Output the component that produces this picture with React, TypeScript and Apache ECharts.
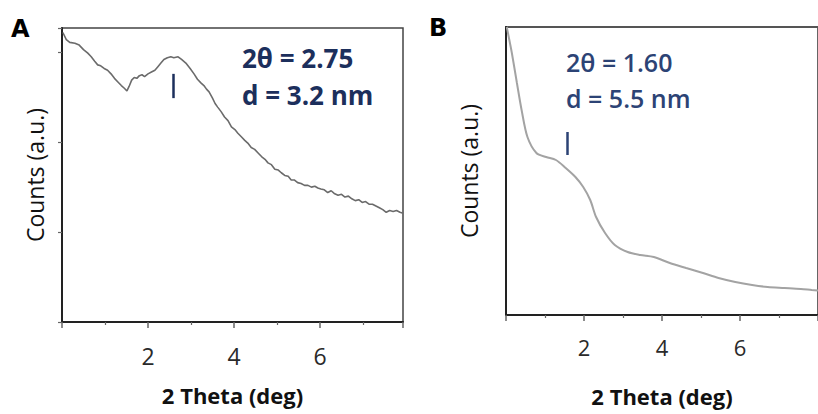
import React, { useEffect, useRef } from "react";
import * as echarts from "echarts";

// Panel A: 2 Theta (deg) vs counts (a.u.)
const aTheta = [0.02,0.1,0.18,0.3,0.4,0.5,0.6,0.68,0.76,0.83,0.9,0.98,1.06,1.14,1.22,1.3,1.38,1.45,1.51,1.56,1.62,1.68,1.74,1.8,1.86,1.92,2.0,2.08,2.16,2.23,2.3,2.37,2.45,2.53,2.6,2.7,2.78,2.88,2.98,3.07,3.15,3.23,3.3,3.36,3.42,3.5,3.56,3.62,3.7,3.78,3.86,3.94,4.02,4.09,4.17,4.25,4.32,4.4,4.48,4.56,4.64,4.72,4.79,4.87,4.95,5.03,5.1,5.18,5.26,5.33,5.4,5.48,5.56,5.64,5.72,5.8,5.88,5.95,6.02,6.1,6.18,6.26,6.33,6.42,6.5,6.58,6.66,6.74,6.82,6.9,6.98,7.06,7.14,7.22,7.3,7.38,7.46,7.54,7.62,7.7,7.78,7.86,7.93];
const aCounts = [3.22,3.14,3.11,3.10,3.08,3.03,2.99,2.95,2.90,2.86,2.85,2.82,2.80,2.76,2.71,2.67,2.63,2.60,2.57,2.62,2.69,2.72,2.71,2.74,2.75,2.73,2.76,2.78,2.80,2.84,2.88,2.92,2.94,2.95,2.94,2.95,2.92,2.88,2.82,2.76,2.70,2.66,2.63,2.59,2.56,2.49,2.43,2.39,2.34,2.28,2.24,2.17,2.14,2.10,2.06,2.02,1.99,1.94,1.92,1.88,1.84,1.81,1.77,1.75,1.70,1.69,1.66,1.63,1.62,1.58,1.58,1.55,1.54,1.52,1.52,1.50,1.51,1.49,1.48,1.47,1.44,1.46,1.43,1.41,1.42,1.39,1.40,1.37,1.35,1.36,1.33,1.34,1.31,1.31,1.29,1.27,1.25,1.22,1.24,1.23,1.24,1.22,1.21];

// Panel B
const bTheta = [0.02,0.05,0.15,0.28,0.4,0.55,0.78,1.03,1.28,1.53,1.78,1.98,2.16,2.31,2.54,2.79,3.12,3.44,3.79,4.2,4.62,5.05,5.45,5.88,6.31,6.71,7.14,7.56,7.84,8.0];
const bCounts = [2.88,2.82,2.62,2.32,2.05,1.78,1.62,1.58,1.55,1.47,1.38,1.28,1.15,0.98,0.82,0.70,0.63,0.60,0.58,0.52,0.47,0.42,0.37,0.33,0.30,0.28,0.27,0.26,0.25,0.245];

// Peak markers [theta, lowCount, highCount]
const aMarker = [2.58, 2.49, 2.76];
const bMarker = [1.56, 1.6, 1.83];

const xTickLabels = [2, 4, 6];
const aNotes = ["2θ = 2.75", "d = 3.2 nm"];
const bNotes = ["2θ = 1.60", "d = 5.5 nm"];
const panelLabels = ["A", "B"];
const xName = "2 Theta (deg)";
const yName = "Counts (a.u.)";

const FONT = "'Open Sans'";
const NAVY = "#1c2f5c";

function xAxisCfg(grid: number, max: number, labelSize: number, margin: number, nameGap: number) {
  return {
    gridIndex: grid,
    type: "value",
    min: 0,
    max,
    interval: 2,
    axisLine: { show: true, lineStyle: { color: "#222", width: 2 } },
    axisTick: { show: true, length: 6, lineStyle: { color: "#666", width: 1.5 } },
    minorTick: { show: true, splitNumber: 2, length: 3, lineStyle: { color: "#666", width: 1.2 } },
    minorSplitLine: { show: false },
    splitLine: { show: false },
    axisLabel: {
      formatter: (v: number) => (xTickLabels.includes(v) ? String(v) : ""),
      fontSize: labelSize,
      color: "#2a2a2a",
      fontFamily: "Open Sans",
      margin,
      showMaxLabel: false,
    },
    name: xName,
    nameLocation: "middle",
    nameGap,
    nameTextStyle: { fontSize: 22, fontWeight: "bold", color: "#111", fontFamily: "Open Sans" },
  };
}

function yAxisCfg(grid: number, max: number, showTicks: boolean, nameGap: number) {
  return {
    gridIndex: grid,
    type: "value",
    min: 0,
    max,
    interval: 1,
    axisLine: { show: true, lineStyle: { color: "#222", width: 2 } },
    axisTick: { show: showTicks, length: 4, lineStyle: { color: "#666", width: 1.2 } },
    splitLine: { show: false },
    axisLabel: { show: false },
    name: yName,
    nameLocation: "middle",
    nameGap,
    nameTextStyle: { fontSize: 23, color: "#111", fontFamily: "Open Sans" },
  };
}

export default function App() {
  const ref = useRef<HTMLDivElement>(null);
  useEffect(() => {
    if (!ref.current) return;
    const chart = echarts.init(ref.current, undefined, { renderer: "svg" });
    const aData = aTheta.map((x, i) => [x, aCounts[i]]);
    const bData = bTheta.map((x, i) => [x, bCounts[i]]);
    chart.setOption({
      animation: false,
      backgroundColor: "#fff",
      grid: [
        { left: 62, top: 28, width: 341, height: 294, show: true, borderColor: "#444", borderWidth: 1.5, containLabel: false },
        { left: 506, top: 27, width: 318, height: 288, show: true, borderColor: "#555", borderWidth: 1.8, containLabel: false },
      ],
      xAxis: [xAxisCfg(0, 7.93, 23, 22, 62), xAxisCfg(1, 8, 22, 21, 70)],
      yAxis: [yAxisCfg(0, 3.27, true, 16), yAxisCfg(1, 2.88, false, 26)],
      series: [
        {
          type: "line",
          xAxisIndex: 0,
          yAxisIndex: 0,
          data: aData,
          showSymbol: false,
          lineStyle: { color: "#6b6b6b", width: 1.6 },
          markLine: {
            silent: true,
            symbol: "none",
            label: { show: false },
            lineStyle: { color: NAVY, width: 2.5, type: "solid" },
            data: [[{ coord: [aMarker[0], aMarker[1]] }, { coord: [aMarker[0], aMarker[2]] }]],
          },
        },
        {
          type: "line",
          xAxisIndex: 1,
          yAxisIndex: 1,
          data: bData,
          showSymbol: false,
          smooth: 0.3,
          lineStyle: { color: "#a3a3a3", width: 2 },
          markLine: {
            silent: true,
            symbol: "none",
            label: { show: false },
            lineStyle: { color: "#2c4375", width: 2.5, type: "solid" },
            data: [[{ coord: [bMarker[0], bMarker[1]] }, { coord: [bMarker[0], bMarker[2]] }]],
          },
        },
      ],
      graphic: [
        { type: "text", left: 11, top: 17, style: { text: panelLabels[0], font: "900 24px 'DejaVu Sans'", fill: "#000" } },
        { type: "text", left: 429, top: 16, style: { text: panelLabels[1], font: "900 24px 'DejaVu Sans'", fill: "#000" } },
        { type: "text", x: 242, y: 58, style: { text: aNotes[0], font: `bold 26px ${FONT}`, fill: NAVY, verticalAlign: "middle" } },
        { type: "text", x: 242, y: 95, style: { text: aNotes[1], font: `bold 26px ${FONT}`, fill: NAVY, verticalAlign: "middle" } },
        { type: "text", x: 566, y: 62, style: { text: bNotes[0], font: `600 25px ${FONT}`, fill: "#2c4375", verticalAlign: "middle" } },
        { type: "text", x: 566, y: 98, style: { text: bNotes[1], font: `600 25px ${FONT}`, fill: "#2c4375", verticalAlign: "middle" } },
      ],
    });
    return () => chart.dispose();
  }, []);
  return (
    <div
      ref={ref}
      style={{ position: "fixed", left: 0, top: 0, width: 818, height: 414, background: "#fff" }}
    />
  );
}
